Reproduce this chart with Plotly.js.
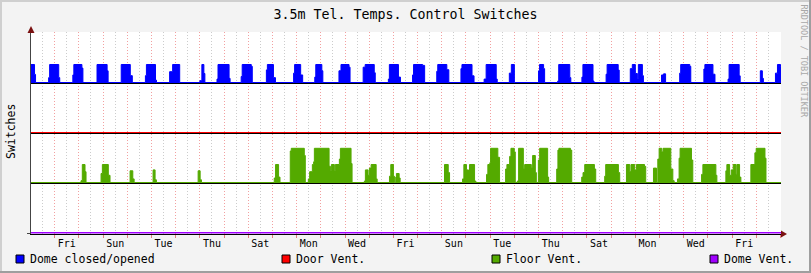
<!DOCTYPE html>
<html><head><meta charset="utf-8">
<script src="https://cdn.plot.ly/plotly-3.0.1.min.js"></script>
<style>html,body{margin:0;padding:0;background:#f3f3f3;}#chart{width:811px;height:273px;}</style>
</head><body><div id="chart"></div>
<script>
// ---- DATA (hours relative to the first Friday 00:00) ----
const dayLabels = ['Fri','Sun','Tue','Thu','Sat','Mon','Wed','Fri','Sun','Tue','Thu','Sat','Mon','Wed','Fri'];
const labelHours = [12,60,108,156,204,252,300,348,396,444,492,540,588,636,684];

const seriesNames = ['Dome closed/opened','Door Vent.','Floor Vent.','Dome Vent.'];

const domeHours = [-24,-20,-19,-6,-5,4,5,18,19,27,28,42,52,53,66,75,77,90,91,100,101,114,117,124,
 144,146,148,149,161,162,173,174,185,186,195,196,210,211,217,219,237,238,244,246,258,259,265,266,
 282,284,292,293,306,308,317,318,331,332,341,343,355,356,365,367,379,380,389,391,403,404,414,416,
 426,428,438,439,451,453,456,480,481,485,486,499,500,511,512,523,524,534,535,547,548,559,560,
 571,573,576,578,579,583,584,602,604,606,620,621,630,631,644,645,653,655,668,669,679,680,
 700,702,703,715,717,720,721];
const domeState = [1,0.45,0,0.27,1,0.27,0,0.42,1,0.8,0,1,0.65,0,1,0.38,0,0.38,1,0.13,0,0.6,1,0,
 0.1,1,0.5,0,0.19,1,0.23,0,0.33,1,0.9,0,0.7,1,0.27,0,0.52,1,0.42,0,0.3,1,0.65,0,
 0.65,1,0.85,0,0.85,1,0.54,0,0.19,1,0.3,0,0.42,1,0.95,0,0.62,1,0.71,0,0.77,1,0.37,0,
 0.19,1,0.19,0,0.52,1,0,0.65,1,0.77,0,0.08,1,0.27,0,0.3,1,0.08,0,0.46,1,0.69,0,
 0.77,1,0.5,0.2,1,0.38,0,0.42,0.48,0,0.52,1,0.9,0,0.75,1,0.46,0,0.19,1,0.37,0,
 0.65,0.23,0,0.52,1,0.9,0.9];

const floorHours = [-24,26.1,27.4,30.1,31.1,46,47.3,53.2,54.9,74.8,77.5,78.8,97.6,99.6,100.9,
 142.3,144.3,145.6,217.8,219.1,222.1,223.5,233.7,234.7,247.6,248.6,
 251.6,252.9,255.6,256.9,257.6,272.2,273.5,274.5,277.4,278.4,282.4,283.4,294,295,
 307.2,308.2,310.9,312.2,313.9,318.9,319.9,332.1,333.4,336,337,338.3,339,341.7,342.7,
 386.7,390.4,391.7,404.6,405.9,408.5,410.5,411.5,416.5,417.8,
 428.4,429.7,431.7,432.4,439.6,441.3,447.3,448.6,451.3,452.6,455.9,456.9,
 458.9,460.2,464.9,466.2,472.8,474.1,476.8,477.8,479.8,481.1,489,490,
 498,499.2,500.2,511.6,512.9,522.8,524.1,525.8,535.4,536.7,545.6,546.6,559.2,560.5,
 567.2,570.5,571.7,575.4,577.1,585.1,586.3,594,597,598.3,599.6,602.2,603.5,611.2,613.2,614.5,
 617.8,619.4,620.4,631.7,633,641.7,643,655.9,656.9,
 665.8,666.8,669.5,671.1,673.1,675.8,676.7,679.4,680.7,690.6,694.6,695.9,704.6,705.6,721];
const floorState = [0,0.1,1,0.6,0,0.5,1,0.4,0,0.65,0.2,0,0.7,0.15,0,
 0.65,0.15,0,0.25,1,0.3,0,1.75,1.9,1.5,0,
 0.2,0.6,1,1.15,1.9,0.9,0.65,1,0.65,1,1.3,1.9,1.05,0,
 0.08,0.7,0.4,0.8,1,0.2,0,0.35,1,0.35,0,0.3,0.5,0.25,0,
 1,0.55,0,0.2,1,0.7,0.3,1,0.08,0,
 0.45,1,1.1,1.9,1.4,0,0.75,1,1.45,1.9,1.7,0,
 0.08,1.9,0.75,1,0.8,1.5,0.55,0,1.25,1.9,0.3,0,
 0.75,1.8,1.9,1.8,0,0.3,0.55,1,0.75,0,0.35,1,0.55,0,
 1,0.6,1,0.7,1,0.9,0,0.8,0,1.3,1.9,1.7,1.9,0.75,0.1,0,
 0.2,1.35,1.9,1.25,0,0.45,1,0.4,0,
 0.65,1,0.4,0.7,1,0.45,1,0.3,0,1,1.65,1.9,1.35,0,0];

const doorHours = [-24,721];
const doorState = [0,0];
const ventHours = [-24,721];
const ventState = [0,0];

// ---- STYLE / LAYOUT ----
const colors = ['#0000ff','#ff0000','#54aa00','#a000ff'];
const offsets = [3,2,1,0];      // vertical lane of each switch
const laneScale = 0.36;         // height of one switch unit in a lane
const lift = 0.02;              // colored edge sits just above the black base line
const X0 = -23.5, X1 = 720.5;

const W = 811, H = 273, ML = 31, MR = 30, MT = 32, MB = 39;
const PW = W - ML - MR, PH = H - MT - MB;
const px = x => (x - ML) / PW;
const py = y => (H - MB - y) / PH;

const series = [
  [domeHours, domeState],
  [doorHours, doorState],
  [floorHours, floorState],
  [ventHours, ventState]
];

const traces = [];
series.forEach(([t, v], i) => {
  const off = offsets[i];
  traces.push({x:[t[0], t[t.length-1]], y:[off, off], mode:'lines', line:{width:0, color:'rgba(0,0,0,0)'}, hoverinfo:'skip'});
  traces.push({x:t, y:v.map(s => off + lift + laneScale*s), name:seriesNames[i], mode:'lines',
    line:{shape:'hv', color:colors[i], width:1}, fill:'tonexty', fillcolor:colors[i]});
  if (off > 0) {
    traces.push({x:[t[0], t[t.length-1]], y:[off, off], mode:'lines', line:{width:1, color:'#000'}, hoverinfo:'skip'});
  }
});

// grid and label ticks: noon of every day, labelled every second day
const noonVals = [], noonText = [];
for (let h = -12; h <= 708; h += 24) {
  noonVals.push(h);
  const k = labelHours.indexOf(h);
  noonText.push(k >= 0 ? dayLabels[k] : '');
}

const shapes = [
  {type:'rect', xref:'paper', yref:'paper', x0:px(0), x1:px(2), y0:py(H), y1:py(0), fillcolor:'#cfcfcf', line:{width:0}, layer:'above'},
  {type:'rect', xref:'paper', yref:'paper', x0:px(0), x1:px(W), y0:py(2), y1:py(0), fillcolor:'#cfcfcf', line:{width:0}, layer:'above'},
  {type:'rect', xref:'paper', yref:'paper', x0:px(W-2), x1:px(W), y0:py(H), y1:py(0), fillcolor:'#9e9e9e', line:{width:0}, layer:'above'},
  {type:'rect', xref:'paper', yref:'paper', x0:px(0), x1:px(W), y0:py(H), y1:py(H-2), fillcolor:'#9e9e9e', line:{width:0}, layer:'above'},
  {type:'path', xref:'paper', yref:'paper', path:`M ${px(31)} ${py(26)} L ${px(27.5)} ${py(33)} L ${px(34.5)} ${py(33)} Z`, fillcolor:'#7a1010', line:{width:0}, layer:'above'},
  {type:'path', xref:'paper', yref:'paper', path:`M ${px(787)} ${py(234)} L ${px(781)} ${py(230.5)} L ${px(781)} ${py(237.5)} Z`, fillcolor:'#7a1010', line:{width:0}, layer:'above'}
];

const legendBoxX = [16, 282, 492, 710];
const annotations = [
  {text:'Switches', xref:'paper', yref:'paper', x:px(11), y:py(132), textangle:-90, showarrow:false,
   font:{family:'DejaVu Sans Mono', size:11.5, color:'#000'}, xanchor:'center', yanchor:'middle'},
  {text:'RRDTOOL / TOBI OETIKER', xref:'paper', yref:'paper', x:px(803.5), y:py(61), textangle:90, showarrow:false,
   font:{family:'DejaVu Sans Mono', size:8.5, color:'#a8a8a8'}, xanchor:'center', yanchor:'middle'}
];
seriesNames.forEach((n, i) => {
  const bx = legendBoxX[i];
  shapes.push({type:'rect', xref:'paper', yref:'paper', x0:px(bx), x1:px(bx+8), y0:py(263), y1:py(255),
    fillcolor:colors[i], line:{color:'#000', width:1}, layer:'above'});
  annotations.push({text:n, xref:'paper', yref:'paper', x:px(bx+12), y:py(259), showarrow:false,
    xanchor:'left', yanchor:'middle', font:{family:'DejaVu Sans Mono', size:11.5, color:'#000'}});
});

const layout = {
  width: W, height: H,
  paper_bgcolor:'#f3f3f3', plot_bgcolor:'#ffffff',
  margin:{l:ML, r:MR, t:MT, b:MB, pad:0},
  showlegend:false,
  font:{family:'DejaVu Sans Mono', size:10, color:'#000'},
  title:{text:'3.5m Tel. Temps. Control Switches', font:{family:'DejaVu Sans Mono', size:13.3, color:'#000'},
    x:0.5, xref:'container', xanchor:'center', y:1-14/H, yref:'container', yanchor:'middle'},
  xaxis:{range:[X0, X1], tickmode:'array', tickvals:noonVals, ticktext:noonText, ticks:'',
    showgrid:true, gridcolor:'#cccccc', griddash:'1px,2px', gridwidth:1,
    showline:true, linecolor:'#000', linewidth:1, zeroline:false, fixedrange:true,
    tickfont:{family:'DejaVu Sans Mono', size:10, color:'#000'},
    minor:{tickmode:'linear', tick0:0, dtick:24, showgrid:true, gridcolor:'#f2a0a0', griddash:'1px,2px', gridwidth:1,
      ticks:'outside', ticklen:3, tickcolor:'#e08080'}},
  yaxis:{range:[-0.01, 4.03], showgrid:false, zeroline:false, showticklabels:false,
    showline:true, linecolor:'#444', linewidth:1, tickmode:'array', tickvals:[0], ticks:'outside', ticklen:3, tickcolor:'#444', fixedrange:true},
  shapes: shapes,
  annotations: annotations
};

Plotly.newPlot('chart', traces, layout, {staticPlot:true, displayModeBar:false});
</script></body></html>
